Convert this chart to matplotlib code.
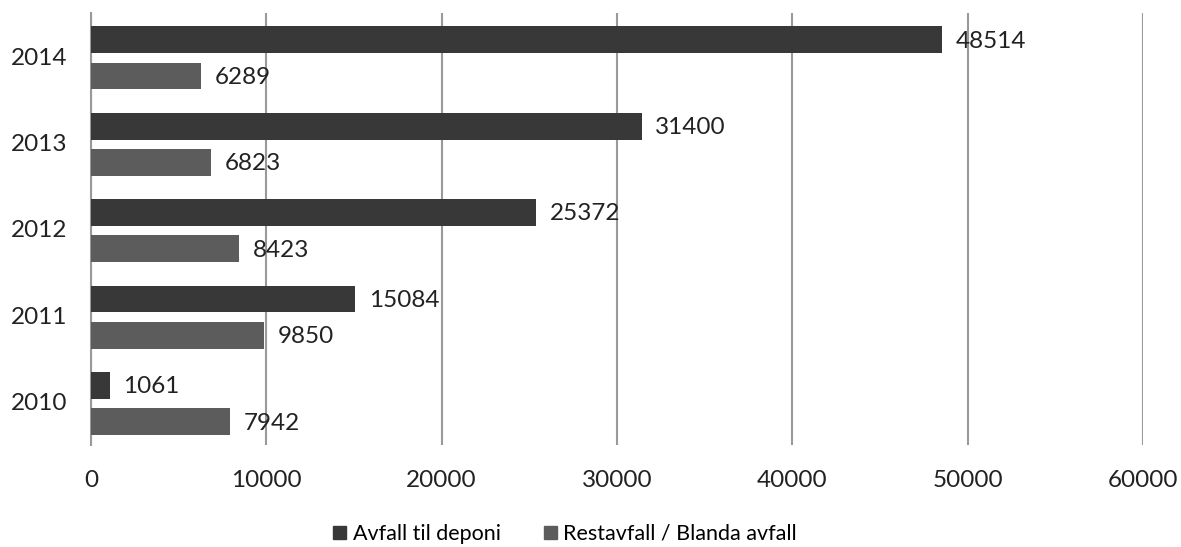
import numpy as np
import matplotlib.pyplot as plt
from matplotlib.patches import Patch

plt.rcParams['font.family'] = ['Lato', 'DejaVu Sans']

years = ["2010", "2011", "2012", "2013", "2014"]
deponi = [1061, 15084, 25372, 31400, 48514]
restavfall = [7942, 9850, 8423, 6823, 6289]
series_names = ["Avfall til deponi", "Restavfall / Blanda avfall"]
colors = ["#383838", "#5c5c5c"]

fig = plt.figure(figsize=(11.81, 5.47), dpi=100)
ax = fig.add_axes([91 / 1181, 1 - 445 / 547, (1143 - 91) / 1181, 432 / 547])

y = np.arange(len(years))
h = 0.31
b1 = ax.barh(y + 0.19, deponi, height=h, color=colors[0], zorder=3)
b2 = ax.barh(y - 0.23, restavfall, height=h, color=colors[1], zorder=3)

for bars, vals in [(b1, deponi), (b2, restavfall)]:
    for bar, v in zip(bars, vals):
        ax.annotate(str(v), (bar.get_width(), bar.get_y() + bar.get_height() / 2),
                    xytext=(10, -1), textcoords="offset points",
                    va="center", ha="left", fontsize=17.5, color="#222222", zorder=4)

ax.set_xlim(0, 60000)
ax.set_ylim(-0.5, len(years) - 0.5)
ax.set_xticks(range(0, 60001, 10000))
ax.set_yticks(y)
ax.set_yticklabels(years)
ax.tick_params(axis="both", length=0, labelsize=17.5, colors="#222222")
ax.tick_params(axis="x", pad=18)
ax.tick_params(axis="y", pad=17)

ax.grid(axis="x", color="#999999", linewidth=1.5, zorder=0)
for s in ["top", "right", "bottom"]:
    ax.spines[s].set_visible(False)
ax.spines["left"].set_color("#999999")
ax.spines["left"].set_linewidth(1.5)

handles = [Patch(color=c) for c in colors]
fig.legend(handles, series_names, loc="center", bbox_to_anchor=(565 / 1181, 1 - 534 / 547),
           ncol=2, frameon=False, fontsize=15.5, handlelength=0.6, handleheight=0.6,
           handletextpad=0.3, columnspacing=2.0)

plt.savefig("out.png")
